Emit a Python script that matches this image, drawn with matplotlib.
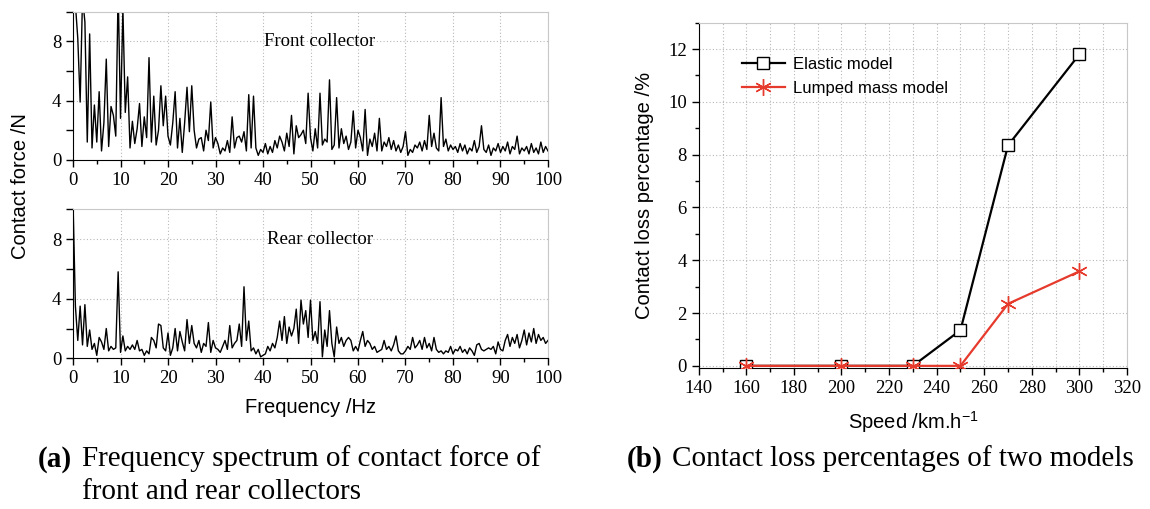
import numpy as np
import matplotlib
matplotlib.use('Agg')
import matplotlib.pyplot as plt
from matplotlib.ticker import MultipleLocator

# frequency axis of the spectra, 0.5 Hz resolution
freq = np.arange(0, 100.5, 0.5)

front_force = [
    12.0, 10.5, 8.2, 3.9, 11.0, 9.3, 1.2, 8.5, 0.8, 3.7,
    1.2, 4.6, 0.6, 2.5, 6.8, 0.9, 3.6, 3.0, 1.6, 11.5,
    2.8, 10.2, 3.2, 5.6, 0.8, 2.6, 1.1, 2.1, 3.8, 0.9,
    2.9, 1.5, 6.9, 1.2, 4.3, 1.0, 2.0, 5.0, 2.3, 4.3,
    1.6, 1.0, 2.5, 4.6, 0.8, 2.8, 0.5, 2.5, 4.9, 1.9,
    5.0, 2.0, 0.8, 1.4, 1.5, 0.6, 2.0, 1.3, 3.9, 0.8,
    1.5, 1.1, 0.4, 0.8, 0.6, 1.3, 0.5, 2.9, 0.8, 1.5,
    1.6, 1.2, 1.9, 0.6, 4.4, 0.8, 4.3, 0.8, 0.3, 0.7,
    0.5, 1.1, 0.4, 0.9, 0.5, 1.3, 0.8, 1.6, 1.2, 0.6,
    1.8, 0.9, 3.0, 0.4, 2.3, 1.5, 1.7, 2.0, 1.1, 4.5,
    1.5, 0.6, 2.1, 0.8, 4.5, 1.0, 1.4, 1.2, 5.4, 0.7,
    1.0, 4.2, 0.8, 2.1, 1.1, 1.6, 0.7, 1.2, 3.3, 0.8,
    2.0, 1.5, 0.6, 3.4, 0.3, 1.4, 0.9, 1.8, 0.6, 2.8,
    0.6, 1.2, 0.9, 1.5, 0.7, 1.3, 0.6, 1.0, 0.5, 0.9,
    1.9, 0.3, 0.7, 0.5, 1.0, 0.8, 1.2, 0.6, 1.3, 0.7,
    3.0, 0.9, 1.8, 0.8, 0.6, 4.2, 0.9, 1.4, 0.6, 1.0,
    0.7, 0.9, 0.5, 1.1, 0.6, 1.0, 0.4, 0.8, 0.6, 1.3,
    0.5, 0.9, 2.3, 0.7, 0.5, 1.0, 0.3, 0.8, 0.6, 1.1,
    0.5, 0.9, 0.6, 1.2, 0.4, 0.9, 0.7, 1.6, 0.4, 0.8,
    0.6, 0.9, 0.4, 1.1, 0.5, 0.8, 0.4, 1.2, 0.5, 0.9,
    0.6,
]

rear_force = [
    10.5, 3.5, 1.2, 3.5, 0.9, 3.6, 0.8, 1.9, 0.6, 1.0,
    0.2, 1.4, 1.1, 0.6, 2.0, 0.5, 0.8, 0.6, 0.7, 5.8,
    0.4, 1.5, 0.5, 0.8, 0.6, 0.9, 0.6, 1.2, 0.5, 0.6,
    0.2, 0.5, 0.3, 1.4, 1.2, 0.7, 2.3, 2.2, 0.7, 0.5,
    1.7, 0.2, 0.7, 2.0, 0.5, 1.8, 1.1, 0.5, 2.6, 1.0,
    2.2, 1.0, 0.7, 1.2, 0.4, 1.0, 0.8, 2.4, 0.4, 1.2,
    0.7, 0.6, 0.4, 0.8, 1.2, 0.6, 2.2, 0.7, 1.0, 1.2,
    2.3, 0.8, 4.8, 1.2, 2.5, 0.5, 0.7, 0.3, 0.6, 0.1,
    0.2, 0.3, 0.8, 0.5, 1.0, 0.7, 1.4, 2.5, 1.2, 2.8,
    1.0, 2.1, 1.5, 2.0, 3.3, 1.0, 3.9, 2.3, 3.2, 1.4,
    3.9, 1.2, 1.8, 1.0, 3.8, 0.1, 1.9, 0.8, 3.2, 1.0,
    0.1, 2.1, 1.0, 1.4, 0.8, 1.2, 1.4, 1.2, 0.5, 0.8,
    0.5, 1.2, 1.8, 0.8, 1.2, 1.0, 0.6, 0.8, 0.4, 0.5,
    0.6, 1.2, 0.6, 0.8, 0.5, 0.9, 1.5, 0.5, 0.3, 0.3,
    0.5, 0.8, 0.6, 1.4, 0.7, 0.9, 1.2, 0.6, 1.4, 0.7,
    1.0, 0.5, 1.4, 0.6, 0.4, 0.5, 0.3, 0.5, 0.4, 0.8,
    0.3, 0.6, 0.5, 0.8, 0.4, 0.6, 0.3, 0.7, 0.5, 0.2,
    0.9, 1.0, 0.6, 0.5, 0.6, 0.7, 0.6, 0.8, 0.3, 1.1,
    0.6, 0.5, 1.2, 1.6, 0.8, 1.4, 1.0, 1.6, 0.7, 1.2,
    1.9, 0.9, 1.7, 1.1, 2.0, 1.0, 1.6, 1.2, 1.4, 1.0,
    1.2,
]

# contact loss vs. running speed
speed = [160, 200, 230, 250, 270, 300]
loss_elastic = [0.0, 0.0, 0.0, 1.35, 8.35, 11.8]
loss_lumped = [0.0, 0.0, 0.0, 0.0, 2.35, 3.58]

serif = 'Liberation Serif'
sans = 'Liberation Sans'
plt.rcParams['font.family'] = serif
plt.rcParams['mathtext.fontset'] = 'custom'
plt.rcParams['mathtext.rm'] = sans
plt.rcParams['mathtext.it'] = sans + ':italic'
plt.rcParams['mathtext.bf'] = sans + ':bold'
plt.rcParams['mathtext.default'] = 'rm'

grid_kw = dict(color='#b8b8b8', linestyle=(0, (1, 2)), linewidth=0.8)
red = '#e53a2c'

fig = plt.figure(figsize=(11.5, 5.09), dpi=100)


def style_axes(ax):
    for side in ('top', 'right'):
        ax.spines[side].set_color('#c8c8c8')
    ax.tick_params(which='both', direction='out', top=False, right=False,
                   labelsize=13.5, length=5, width=1.0)
    ax.tick_params(which='minor', length=3)
    ax.grid(True, which='major', **grid_kw)
    ax.set_axisbelow(True)


# ---- (a) spectra ----
ax_f = fig.add_axes([0.0635, 0.686, 0.413, 0.291])
ax_r = fig.add_axes([0.0635, 0.296, 0.413, 0.293])
for ax, force, name in [(ax_f, front_force, 'Front collector'),
                        (ax_r, rear_force, 'Rear collector')]:
    ax.plot(freq, force, color='black', linewidth=1.0)
    ax.set_xlim(0, 100)
    ax.set_ylim(0, 10)
    ax.xaxis.set_major_locator(MultipleLocator(10))
    ax.xaxis.set_minor_locator(MultipleLocator(5))
    ax.yaxis.set_major_locator(MultipleLocator(4))
    ax.yaxis.set_minor_locator(MultipleLocator(2))
    style_axes(ax)
    ax.tick_params(which='minor', axis='y', length=5)
    ax.text(0.52, 0.8, name, transform=ax.transAxes, ha='center', va='center',
            fontsize=13.5)

ax_r.set_xlabel('Frequency /Hz', fontsize=14.5, family=sans, labelpad=8)
fig.text(0.018, 0.635, 'Contact force /N', rotation=90, ha='center',
         va='center', fontsize=14.5, family=sans)

# ---- (b) contact loss ----
ax_b = fig.add_axes([0.6076, 0.2776, 0.3724, 0.678])
ax_b.plot(speed, loss_elastic, color='black', linewidth=1.6, marker='s',
          markersize=9, markerfacecolor='white', markeredgecolor='black',
          markeredgewidth=1.0, label='Elastic model', zorder=3)
ax_b.plot(speed, loss_lumped, color=red, linewidth=1.6, marker=(6, 2, 0),
          markersize=12, markeredgecolor=red, markeredgewidth=1.0,
          label='Lumped mass model', zorder=4)
ax_b.set_xlim(140, 320)
ax_b.set_ylim(-0.07, 13)
ax_b.xaxis.set_major_locator(MultipleLocator(20))
ax_b.xaxis.set_minor_locator(MultipleLocator(10))
ax_b.yaxis.set_major_locator(MultipleLocator(2))
ax_b.yaxis.set_minor_locator(MultipleLocator(1))
style_axes(ax_b)
ax_b.grid(True, which='minor', axis='x', **grid_kw)
ax_b.set_xlabel('Speed /km.h$^{-1}$', fontsize=14.5, family=sans, labelpad=9)
ax_b.set_ylabel('Contact loss percentage /%', fontsize=14.5, family=sans,
                labelpad=10)
ax_b.legend(loc='upper left', bbox_to_anchor=(0.065, 0.945),
            frameon=False, prop={'family': sans, 'size': 12},
            handlelength=2.6, handletextpad=0.5, labelspacing=0.55)

# captions
cap = 21
fig.text(0.033, 0.084, '(a)', fontsize=cap, weight='bold', va='baseline')
fig.text(0.0713, 0.084, 'Frequency spectrum of contact force of',
         fontsize=cap, va='baseline')
fig.text(0.0713, 0.019, 'front and rear collectors', fontsize=cap,
         va='baseline')
fig.text(0.545, 0.084, '(b)', fontsize=cap, weight='bold', va='baseline')
fig.text(0.584, 0.084, 'Contact loss percentages of two models',
         fontsize=cap, va='baseline')

fig.savefig('out.png', dpi=100)
